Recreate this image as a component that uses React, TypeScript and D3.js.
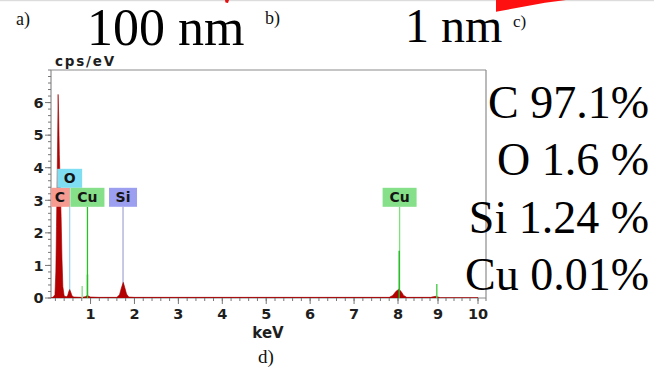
import React from "react";
import * as d3 from "d3";

// EDS spectrum: energy (keV) vs counts (cps/eV)
const spectrumKeV = [
  0.1, 0.15, 0.19, 0.21, 0.225, 0.24, 0.252, 0.262, 0.275, 0.29, 0.31, 0.33, 0.35, 0.37, 0.4,
  0.45, 0.48, 0.505, 0.525, 0.55, 0.58, 0.62, 0.8, 0.88, 0.92, 0.95, 1.0, 1.2, 1.6, 1.66, 1.7,
  1.745, 1.78, 1.82, 1.87, 2.0, 7.8, 7.88, 7.95, 8.02, 8.08, 8.14, 8.22, 8.82, 8.88, 8.94, 9.0,
  9.06, 10.0,
];
const spectrumCps = [
  0.0, 0.03, 0.1, 0.8, 2.2, 3.6, 5.0, 6.25, 5.6, 4.4, 3.5, 2.5, 1.2, 0.35, 0.06,
  0.04, 0.08, 0.2, 0.26, 0.18, 0.06, 0.03, 0.02, 0.04, 0.07, 0.06, 0.03, 0.02, 0.02, 0.1, 0.3,
  0.48, 0.32, 0.12, 0.03, 0.02, 0.02, 0.08, 0.2, 0.27, 0.2, 0.08, 0.02, 0.02, 0.04, 0.05, 0.03,
  0.01, 0.01,
];

// narrow line spikes of the fitted series
const spikeKeV = [0.81, 0.93, 8.03, 8.97];
const spikeCps = [0.37, 0.72, 1.45, 0.43];
const spikeColors = ["#8fdc8f", "#26c026", "#22b822", "#4ccc4c"];

// element line markers
const markerNames = ["C", "O", "Cu", "Si", "Cu"];
const markerKeV = [0.277, 0.525, 0.93, 1.74, 8.04];
const markerRow = [0, 1, 0, 0, 0];
const markerFill = ["#f79a90", "#80def2", "#86e08a", "#9c9ef0", "#86e08a"];
const markerLine = ["#f08a80", "#9fd9ee", "#27c027", "#aaaad8", "#80e080"];
const markerBoxWidth = [20, 25, 34, 28, 34];

// composition
const compositionLabels = ["C 97.1%", "O 1.6 %", "Si 1.24 %", "Cu 0.01%"];

const yTicks = [0, 1, 2, 3, 4, 5, 6];
const xTicks = [1, 2, 3, 4, 5, 6, 7, 8, 9, 10];

const W = 654;
const H = 369;
const plot = { left: 51, right: 486, top: 70, bottom: 298 };

// energy axis runs a little past 10 keV; the upper decade is slightly compressed
const x = d3
  .scaleLinear()
  .domain([0.1, 8, 10, 10.2])
  .range([plot.left, 398, 478, plot.right]);
const y = d3.scaleLinear().domain([0, 7]).range([plot.bottom, plot.top]);

const sans = "'DejaVu Sans', Verdana, sans-serif";
const serif = "'Liberation Serif', 'Times New Roman', serif";

export default function App() {
  const pts = spectrumKeV.map((e, i) => [e, spectrumCps[i]] as [number, number]);
  const area = d3
    .area<[number, number]>()
    .x((d) => x(d[0]))
    .y0(y(0))
    .y1((d) => y(d[1]))(pts) as string;

  const yMinor = d3.range(0, 7.0001, 0.2);
  const xMinor = d3.range(0.2, 10.2001, 0.2);

  const boxH = 19;
  const rowBottom = (r: number) => y(2.8) - r * boxH;

  return (
    <div style={{ position: "fixed", left: 0, top: 0 }}>
      <svg width={W} height={H} style={{ display: "block", background: "#fff" }}>
        <defs>
          <clipPath id="plotClip">
            <rect x={plot.left} y={plot.top} width={plot.right - plot.left} height={plot.bottom - plot.top} />
          </clipPath>
        </defs>

        {/* stray marks along the top edge */}
        <rect x={0} y={0} width={W} height={1.2} fill="#dcdcdc" />
        <polygon points="225,0 229,0 228,3 225.5,2.5" fill="#e01010" />
        <polygon points="496,0 496,11.7 545,2.8 566,0" fill="#ff1010" />

        {/* panel letters and scale text */}
        <text x={16} y={25} fontFamily={serif} fontSize={18} fill="#111">a)</text>
        <text x={265} y={24} fontFamily={serif} fontSize={18} fill="#111">b)</text>
        <text x={513} y={27} fontFamily={serif} fontSize={17} fill="#111">c)</text>
        <text x={87} y={45} fontFamily={serif} fontSize={52} fill="#000">100 nm</text>
        <text x={405} y={41.5} fontFamily={serif} fontSize={48} fill="#000">1 nm</text>

        {/* frame */}
        <g stroke="#8c8c8c" strokeWidth={1.2} fill="none">
          <line x1={plot.left} y1={plot.top} x2={plot.right} y2={plot.top} />
          <line x1={plot.right} y1={plot.top} x2={plot.right} y2={plot.bottom} />
          <line x1={plot.left} y1={plot.top} x2={plot.left} y2={plot.bottom} />
          <line x1={plot.left} y1={plot.bottom} x2={plot.right} y2={plot.bottom} />
        </g>

        {/* y ticks */}
        <g stroke="#777" strokeWidth={1}>
          {yMinor.map((v, i) => (
            <line key={"ym" + i} x1={plot.left - 3} x2={plot.left} y1={y(v)} y2={y(v)} />
          ))}
          {yTicks.map((v) => (
            <line key={"yM" + v} x1={plot.left - 6} x2={plot.left} y1={y(v)} y2={y(v)} />
          ))}
        </g>
        {yTicks.map((v) => (
          <text key={"yl" + v} x={43.5} y={y(v) + 5.3} textAnchor="end" fontFamily={sans} fontWeight="bold" fontSize={14.5} fill="#1e1e1e">
            {v}
          </text>
        ))}

        {/* x ticks */}
        <g stroke="#777" strokeWidth={1}>
          {xMinor.map((v, i) => (
            <line key={"xm" + i} x1={x(v)} x2={x(v)} y1={plot.bottom} y2={plot.bottom + 3} />
          ))}
          {xTicks.map((v) => (
            <line key={"xM" + v} x1={x(v)} x2={x(v)} y1={plot.bottom} y2={plot.bottom + 6} />
          ))}
        </g>
        {xTicks.map((v) => (
          <text key={"xl" + v} x={x(v)} y={318.5} textAnchor="middle" fontFamily={sans} fontWeight="bold" fontSize={14.5} fill="#1e1e1e">
            {v}
          </text>
        ))}

        <text x={55} y={66} fontFamily={sans} fontWeight="bold" fontSize={13.5} letterSpacing={1.8} fill="#1e1e1e">cps/eV</text>
        <text x={268} y={338} textAnchor="middle" fontFamily={sans} fontWeight="bold" fontSize={15} fill="#1e1e1e">keV</text>
        <text x={266} y={363} textAnchor="middle" fontFamily={serif} fontSize={19} fill="#111">d)</text>

        <g clipPath="url(#plotClip)">
          {/* marker lines */}
          {markerKeV.map((e, i) => (
            <line
              key={"ml" + i}
              x1={x(e)}
              x2={x(e)}
              y1={rowBottom(markerRow[i])}
              y2={y(0)}
              stroke={markerLine[i]}
              strokeWidth={1.3}
            />
          ))}

          {/* measured spectrum */}
          <path d={area} fill="#b40000" stroke="#a00000" strokeWidth={0.6} />

          {/* fitted line spikes */}
          {spikeKeV.map((e, i) => (
            <line
              key={"sp" + i}
              x1={x(e)}
              x2={x(e)}
              y1={y(0)}
              y2={y(spikeCps[i])}
              stroke={spikeColors[i]}
              strokeWidth={1.4}
            />
          ))}

          {/* element label boxes */}
          {markerKeV.map((e, i) => {
            const cx = x(e) + (i === 0 ? 1 : 0);
            const w = markerBoxWidth[i];
            const b = rowBottom(markerRow[i]);
            return (
              <g key={"mb" + i}>
                <rect x={cx - w / 2} y={b - boxH} width={w} height={boxH} fill={markerFill[i]} />
                <text x={cx} y={b - 4.5} textAnchor="middle" fontFamily={sans} fontWeight="bold" fontSize={14} fill="#151515">
                  {markerNames[i]}
                </text>
              </g>
            );
          })}
        </g>

        {/* composition */}
        {compositionLabels.map((t, i) => (
          <text key={"c" + i} x={649} y={118 + i * 57.3} textAnchor="end" fontFamily={serif} fontSize={46} fill="#000">
            {t}
          </text>
        ))}
      </svg>
    </div>
  );
}
